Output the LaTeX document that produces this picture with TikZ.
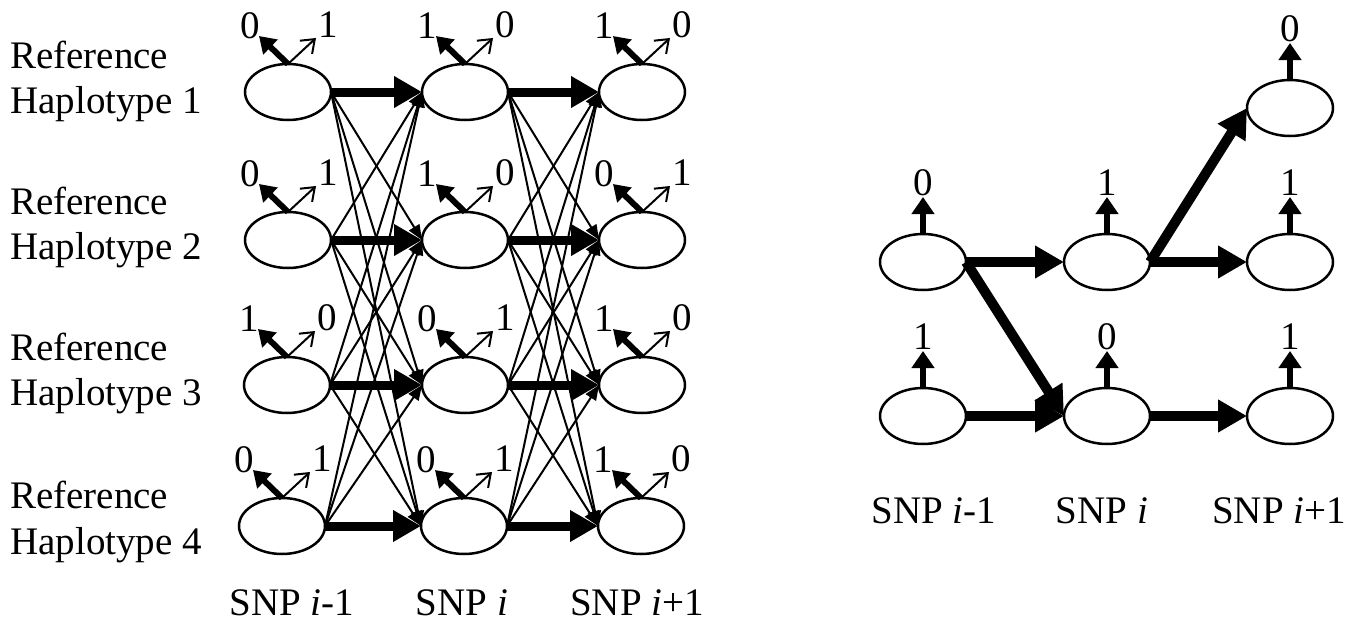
\documentclass[tikz,border=0pt]{standalone}
\usepackage{fontspec}
\setmainfont{Liberation Serif}
\usetikzlibrary{shapes.geometric,arrows.meta,calc}
\begin{document}
\begin{tikzpicture}[x=1pt,y=-1pt,
  hap/.style={ellipse, draw, line width=2.5pt, minimum width=86pt, minimum height=56pt, inner sep=0pt, outer sep=0pt},
  lbl/.style={font=\fontsize{39}{45}\selectfont, inner sep=0pt},
  mainarr/.style={line width=9pt, -{Triangle[length=28pt,width=30pt]}},
  crossarr/.style={line width=2pt, -{Triangle[length=15pt,width=12pt]}},
  emitthick/.style={line width=6pt, -{Triangle[length=16pt,width=20pt]}},
  emitthin/.style={line width=2pt, -{Straight Barb[length=12pt,width=18pt]}},
  rmain/.style={line width=10pt, -{Triangle[length=29pt,width=31pt]}},
  rup/.style={line width=6pt, -{Triangle[length=17pt,width=22pt]}}
]
\useasboundingbox (0,0) rectangle (1358,621);

% ---------- left diagram ----------
\node[hap] (n-1-1) at (288,92) {};
\node[hap] (n-1-2) at (465,92) {};
\node[hap] (n-1-3) at (642,92) {};
\node[hap] (n-2-1) at (288,240) {};
\node[hap] (n-2-2) at (465,240) {};
\node[hap] (n-2-3) at (642,240) {};
\node[hap] (n-3-1) at (287,385) {};
\node[hap] (n-3-2) at (465,385) {};
\node[hap] (n-3-3) at (642,385) {};
\node[hap] (n-4-1) at (282,526) {};
\node[hap] (n-4-2) at (464,526) {};
\node[hap] (n-4-3) at (641,526) {};

% row labels
\foreach \r/\ya/\yb in {1/68/113, 2/214/259, 3/360/405, 4/508/554} {
  \node[lbl, anchor=base west] (ra-\r) at (10,\ya) {Reference};
  \node[lbl, anchor=base west] (rb-\r) at (10,\yb) {Haplotype \r};
}

% cross transitions
\foreach \c/\d in {1/2, 2/3} {
  \foreach \r in {1,2,3,4} {
    \foreach \s in {1,2,3,4} {
      \ifnum\r=\s\else
        \draw[crossarr] (n-\r-\c.east) -- (n-\s-\d.west);
      \fi
    }
  }
}
% main transitions
\foreach \c/\d in {1/2, 2/3} {
  \foreach \r in {1,2,3,4} {
    \draw[mainarr] (n-\r-\c.east) -- (n-\r-\d.west);
  }
}

% emissions
\foreach \r/\c/\a/\b in {1/1/0/1, 1/2/1/0, 1/3/1/0,
                         2/1/0/1, 2/2/1/0, 2/3/0/1,
                         3/1/1/0, 3/2/0/1, 3/3/1/0,
                         4/1/0/1, 4/2/0/1, 4/3/1/0} {
  \coordinate (tk-\r-\c) at ($(n-\r-\c.north)+(-29,-28)$);
  \coordinate (tn-\r-\c) at ($(n-\r-\c.north)+(28,-26)$);
  \draw[emitthick] (n-\r-\c.north) -- (tk-\r-\c);
  \draw[emitthin] (n-\r-\c.north) -- (tn-\r-\c);
  \node[lbl] (la-\r-\c) at ($(n-\r-\c.north)+(-38,-38)$) {\a};
  \node[lbl] (lb-\r-\c) at ($(n-\r-\c.north)+(40,-39)$) {\b};
}

% column labels
\node[lbl, anchor=base] (s1) at (292,615) {SNP \textit{i}-1};
\node[lbl, anchor=base] (s2) at (462,615) {SNP \textit{i}};
\node[lbl, anchor=base] (s3) at (637,615) {SNP \textit{i}+1};

% ---------- right diagram ----------
\node[hap] (A1) at (923,262) {};
\node[hap] (A2) at (923,416) {};
\node[hap] (B1) at (1107,262) {};
\node[hap] (B2) at (1107,416) {};
\node[hap] (C1) at (1290,108) {};
\node[hap] (C2) at (1290,262) {};
\node[hap] (C3) at (1290,416) {};

\draw[rmain] (A1.east) -- (B1.west);
\draw[rmain] (A1.east) -- (B2.west);
\draw[rmain] (A2.east) -- (B2.west);
\draw[rmain] (B1.east) -- (C1.west);
\draw[rmain] (B1.east) -- (C2.west);
\draw[rmain] (B2.east) -- (C3.west);

\foreach \n/\v in {A1/0, A2/1, B1/1, B2/0, C1/0, C2/1, C3/1} {
  \coordinate (u-\n) at ($(\n.north)+(0,-37)$);
  \draw[rup] (\n.north) -- (u-\n);
  \node[lbl] (v-\n) at ($(\n.north)+(0,-51)$) {\v};
}

\node[lbl, anchor=base] (t1) at (934,523) {SNP \textit{i}-1};
\node[lbl, anchor=base] (t2) at (1102,523) {SNP \textit{i}};
\node[lbl, anchor=base] (t3) at (1279,523) {SNP \textit{i}+1};
\end{tikzpicture}
\end{document}
